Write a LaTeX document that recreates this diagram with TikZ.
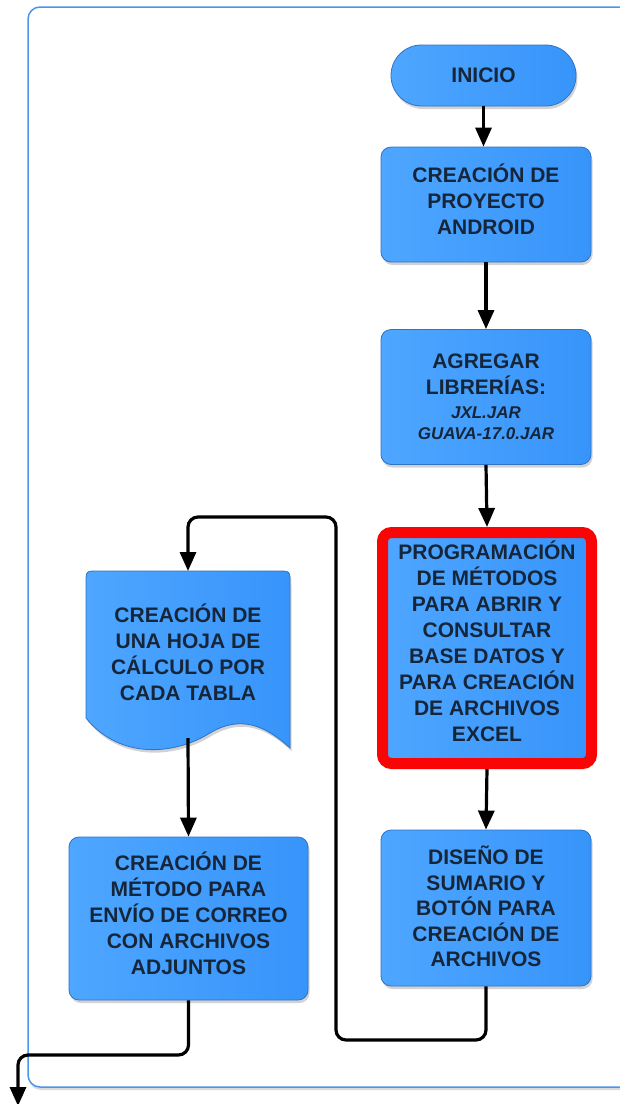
\documentclass[tikz,border=0pt]{standalone}
\usepackage{fontspec}
\setmainfont{Liberation Sans}
\usetikzlibrary{arrows.meta,shapes.misc,shadows}
\definecolor{boxL}{RGB}{78,166,255}
\definecolor{boxR}{RGB}{55,148,250}
\definecolor{boxedge}{RGB}{45,115,200}
\definecolor{txt}{RGB}{22,38,58}
\definecolor{frameblue}{RGB}{75,150,235}
\definecolor{redb}{RGB}{250,5,5}
\tikzset{
  boxshade/.style={left color=boxL,right color=boxR,
    drop shadow={shadow xshift=1.5pt,shadow yshift=-3pt,opacity=0.35}},
  box/.style={boxshade,draw=boxedge,line width=0.8pt,rounded corners=10pt,
    text=txt,font=\fontsize{21}{26}\selectfont\bfseries,align=center,inner sep=0pt},
  conn/.style={line width=3.2pt,rounded corners=10pt},
  arr/.style={conn,-{Triangle[width=16pt,length=19pt]}}
}
\newcommand{\smallit}[1]{{\fontsize{17}{22}\selectfont\itshape #1}}
\newcommand{\dn}[1]{\rule[-#1]{0pt}{#1}}
\begin{document}
\begin{tikzpicture}[x=1pt,y=-1pt]
\useasboundingbox (0,0) rectangle (620,1104);
% frame
\path[draw=frameblue,fill=white,line width=1.5pt,rounded corners=12pt,
  drop shadow={shadow xshift=1pt,shadow yshift=-3pt,opacity=0.3}]
  (28,7) rectangle (660,1087);

% nodes
\node[box,rounded rectangle,sharp corners,minimum width=185pt,minimum height=61pt]
  (inicio) at (483.5,75.5) {INICIO};
\node[box,minimum width=210pt,minimum height=115pt] (p1) at (486,204.5)
  {CREACIÓN DE\\PROYECTO\\ANDROID\dn{11pt}};
\node[box,minimum width=210pt,minimum height=135pt] (p2) at (486,397)
  {AGREGAR\\LIBRERÍAS:\\[-2.4pt]\smallit{JXL.JAR}\\[-5pt]\smallit{GUAVA-17.0.JAR}};
\node[box,draw=redb,line width=11pt,rounded corners=9pt,
  minimum width=209pt,minimum height=231pt] (p3) at (487,648)
  {PROGRAMACIÓN\\DE MÉTODOS\\PARA ABRIR Y\\CONSULTAR\\BASE DATOS Y\\PARA CREACIÓN\\DE ARCHIVOS\\EXCEL\dn{13pt}};
\node[box,minimum width=210pt,minimum height=156pt] (p4) at (486,908)
  {DISEÑO DE\\[-0.5pt]SUMARIO Y\\[-0.5pt]BOTÓN PARA\\[-0.5pt]CREACIÓN DE\\[-0.5pt]ARCHIVOS\dn{3pt}};
\node[box,minimum width=239pt,minimum height=163pt] (p5) at (188.5,918.5)
  {CREACIÓN DE\\MÉTODO PARA\\ENVÍO DE CORREO\\CON ARCHIVOS\\ADJUNTOS\dn{10pt}};

% document shape
\path[boxshade,draw=boxedge,line width=0.8pt]
  (86,718) -- (86,583) .. controls (86,571) .. (98,571) -- (278,571)
  .. controls (290,571) .. (290,583) -- (290,748)
  .. controls (265,725) and (240,715) .. (210,733)
  .. controls (175,755) and (120,760) .. (86,718) -- cycle;
\node[text=txt,font=\fontsize{21}{26}\selectfont\bfseries,align=center,inner sep=0pt]
  (doc) at (188,652) {CREACIÓN DE\\UNA HOJA DE\\CÁLCULO POR\\CADA TABLA};
\coordinate (dtop) at (188,571);
\coordinate (dbot) at (188,738);

% connectors
\coordinate (l1) at (336,1040);
\coordinate (l2) at (336,517);
\coordinate (l3) at (188,517);
\coordinate (o1) at (18,1055);
\coordinate (out) at (18,1106);
\draw[arr] (inicio.south) -- (inicio.south |- p1.north);
\draw[arr] (p1.south) -- (p2.north);
\draw[arr] (p2.south) -- (p3.north);
\draw[arr] (p3.south) -- (p4.north);
\draw[arr] (p4.south) |- (l1) -- (l2) -- (l3) -- (dtop);
\draw[arr] (dbot) -- (p5.north);
\draw[arr] (p5.south) |- (o1) -- (out);
\end{tikzpicture}
\end{document}
